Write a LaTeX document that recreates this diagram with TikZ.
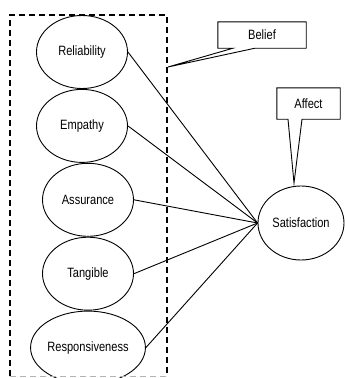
\documentclass[tikz,border=0pt]{standalone}
\usepackage{fontspec}
\setmainfont{Liberation Sans}[FakeStretch=0.82]
\usepackage{tikz}
\usetikzlibrary{positioning,shapes.geometric,backgrounds}

\begin{document}
\begin{tikzpicture}[
  x=1pt, y=-1pt,
  dim/.style   = {ellipse, draw, line width=0.9pt, minimum width=91pt,
                  minimum height=73pt, inner sep=0pt,
                  font=\fontsize{13.5}{15}\selectfont},
  outc/.style  = {dim, minimum width=86pt, minimum height=74pt},
  callbox/.style = {rectangle, inner sep=0pt, font=\fontsize{13.5}{15}\selectfont},
  callline/.style = {draw, fill=white, line width=0.9pt, line join=miter},
  link/.style  = {line width=0.9pt},
  grp/.style   = {line width=1.6pt, dash pattern=on 6pt off 4pt},
  node distance = 0pt
]
\useasboundingbox (0,0) rectangle (345,378);

\node[dim] (rel) at (82,52) {Reliability};
\node[dim, below=of rel] (emp) {Empathy};
\node[dim, below=of emp, xshift=6pt] (ass) {Assurance};
\node[dim, below=of ass] (tan) {Tangible};
\node[dim, below=of tan] (res) {Responsiveness};

\node[outc] (sat) at (301,223) {Satisfaction};

\foreach \src in {rel, emp, ass, tan, res}{
  \draw[link] (\src.east) -- (sat.west);
}

% group of service dimensions
\draw[grp] (10,376) -- (10,15) -- (167,15) -- (167,376);
\draw[grp, gray!60, line width=0.8pt] (10,376) -- (167,376);

% callouts
\node[callbox, minimum width=88pt, minimum height=26pt] (belief) at (262,35) {Belief};
\coordinate (belief-tip) at (168,67);
\draw[callline] (belief.north west) -- (belief.north east) -- (belief.south east)
  -- ([xshift=-7pt]belief.south) -- (belief-tip) -- ([xshift=-29pt]belief.south)
  -- (belief.south west) -- cycle;
\node[callbox] at (belief) {Belief};

\node[callbox, minimum width=63pt, minimum height=31pt] (affect) at (308.5,103.5) {Affect};
\coordinate (affect-tip) at (294,183);
\draw[callline] (affect.north west) -- (affect.north east) -- (affect.south east)
  -- ([xshift=-6.5pt]affect.south) -- (affect-tip) -- ([xshift=-20.5pt]affect.south)
  -- (affect.south west) -- cycle;
\node[callbox] at (affect) {Affect};
\end{tikzpicture}
\end{document}
